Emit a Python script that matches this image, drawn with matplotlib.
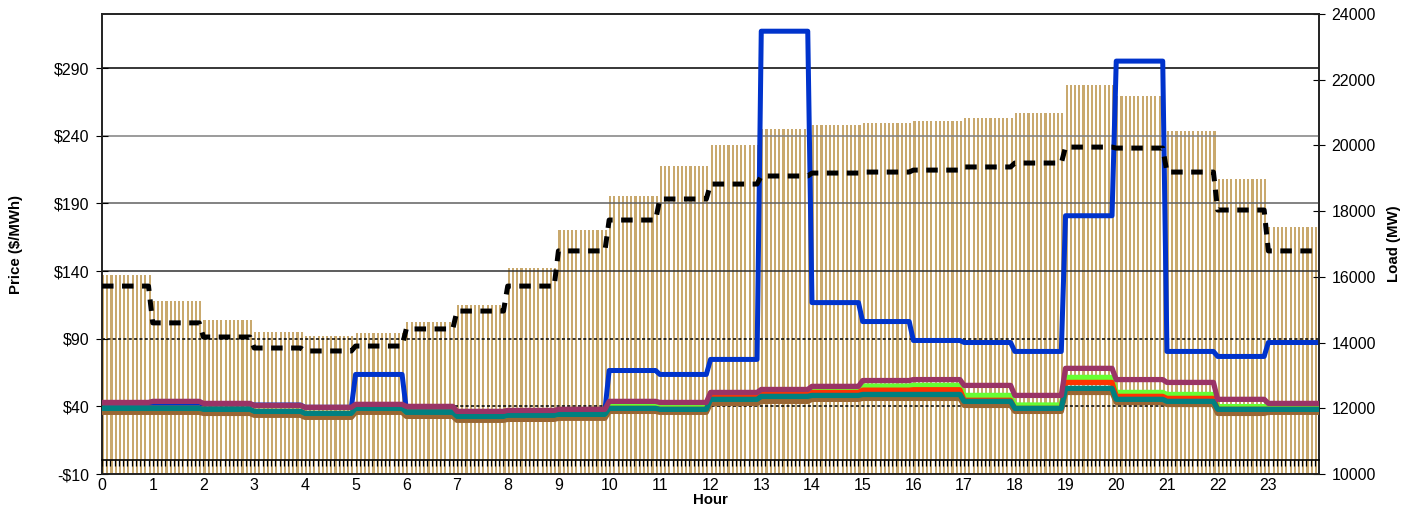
"""
Hourly price vs load chart (5-minute intervals)
"""
import numpy as np
import matplotlib
matplotlib.use('Agg')
import matplotlib.pyplot as plt

plt.rcParams['font.family'] = ['Liberation Sans', 'DejaVu Sans']

# Hourly values, each hour holds 12 five-minute intervals
hours = list(range(24))
hour_labels = [str(h) for h in hours]

load_mw = [16050, 15265, 14690, 14320, 14200, 14290, 14630, 15140, 16270, 17430,
           18460, 19370, 20010, 20500, 20620, 20680, 20740, 20835, 20990, 21840,
           21500, 20440, 18980, 17520]

load_dashed = [15720, 14600, 14170, 13835, 13745, 13895, 14415, 14960, 15720, 16790,
               17730, 18370, 18825, 19070, 19160, 19190, 19250, 19345, 19465, 19950,
               19920, 19190, 18035, 16790]

price_blue = [40.7, 41.0, 41.5, 41.0, 39.3, 63.6, 37.8, 35.6, 36.3, 37.0,
              66.5, 63.6, 74.7, 317.3, 116.7, 102.7, 88.7, 87.2, 80.6, 180.9,
              295.2, 80.6, 76.9, 87.2]

price_purple = [42.9, 43.7, 42.2, 40.7, 39.3, 41.5, 40.0, 36.3, 37.0, 37.8,
                43.7, 42.9, 50.3, 52.5, 54.8, 59.1, 59.8, 55.5, 48.1, 68.1,
                59.8, 57.7, 45.2, 42.2]

price_green = [38.5, 38.5, 37.8, 36.3, 34.8, 38.5, 35.6, 32.6, 33.4, 34.1,
               40.5, 39.8, 48.1, 49.6, 51.8, 55.0, 55.5, 48.1, 41.0, 61.4,
               50.3, 48.8, 39.8, 39.3]

price_red = [38.5, 38.5, 37.8, 36.3, 34.8, 38.5, 35.6, 32.6, 33.4, 34.1,
             38.5, 37.8, 46.6, 48.8, 50.3, 52.0, 52.3, 44.5, 38.5, 57.7,
             47.4, 45.9, 37.8, 37.8]

price_teal = [38.5, 38.5, 37.8, 36.3, 34.8, 38.5, 35.6, 32.6, 33.4, 34.1,
              38.5, 37.8, 45.2, 47.4, 48.1, 48.8, 48.8, 43.7, 38.5, 53.3,
              45.2, 43.7, 37.8, 37.8]

price_brown = [35.6, 35.6, 34.8, 33.4, 31.9, 35.6, 32.6, 29.7, 30.4, 31.2,
               36.3, 35.6, 42.2, 43.7, 45.2, 45.9, 45.9, 40.7, 36.3, 50.3,
               42.9, 41.4, 34.8, 35.6]

price_ticks = [-10, 40, 90, 140, 190, 240, 290]
load_ticks = [10000, 12000, 14000, 16000, 18000, 20000, 22000, 24000]

PER_HOUR = 12


def to_intervals(values):
    """Spread hourly values over 5-minute intervals, closing the line at hour 24"""
    v = np.repeat(values, PER_HOUR)
    return np.append(v, v[-1])


n = 24 * PER_HOUR
x_bar = np.arange(n) / PER_HOUR
x_line = np.arange(n + 1) / PER_HOUR

fig = plt.figure(figsize=(14.17, 5.08), dpi=100)
ax = fig.add_axes([0.072, 0.0669, 0.8589, 0.9055])
ax2 = ax.twinx()
ax.set_zorder(ax2.get_zorder() + 1)
ax.patch.set_visible(False)

# Load bars on the right axis
ax2.bar(x_bar, np.repeat(load_mw, PER_HOUR) - 10000, bottom=10000, width=1 / 24,
        align='edge', color='#C9A96E', linewidth=0)
ax2.set_ylim(10000, 24000)
ax2.set_yticks(load_ticks)
ax2.tick_params(axis='y', direction='inout', length=8, labelsize=11.5, pad=5)
ax2.set_ylabel('Load (MW)', fontsize=10.8, fontweight='bold', labelpad=8)

# Gridlines on the price axis
grid_styles = {290: ('#000000', '-'), 240: ('#808080', '-'), 190: ('#606060', '-'),
               140: ('#303030', '-'), 90: ('#000000', (0, (2, 1.5))),
               40: ('#000000', (0, (2, 1.5)))}
for val, (col, ls) in grid_styles.items():
    ax.axhline(val, color=col, linestyle=ls, linewidth=1.1, zorder=1)

# Price lines (blue sits under the cluster of low lines)
ax.plot(x_line, to_intervals(price_blue), color='#0033CC', lw=3.6, zorder=2,
        solid_joinstyle='round')
for vals, col in [(price_brown, '#996633'), (price_green, '#66FF33'),
                  (price_red, '#FF3300'), (price_teal, '#008080'),
                  (price_purple, '#993366')]:
    ax.plot(x_line, to_intervals(vals), color=col, lw=3.8, zorder=3)

# Dashed load line drawn in load units, on top of the price lines
ax.plot(x_line, to_intervals(load_dashed), color='black', lw=3.6,
        linestyle=(0, (2.3, 1.7)), transform=ax2.transData, zorder=4)

ax.set_xlim(0, 24)
ax.set_ylim(-10, 330)
ax.set_yticks(price_ticks)
ax.set_yticklabels([f'-${-v}' if v < 0 else f'${v}' for v in price_ticks])
ax.tick_params(axis='y', direction='inout', length=8, labelsize=11.5, pad=5)
ax.set_xticks(hours)
ax.set_xticklabels(hour_labels)
ax.tick_params(axis='x', length=0, labelsize=11.5, pad=3)
ax.set_ylabel('Price ($/MWh)', fontsize=10.8, fontweight='bold', labelpad=22)
ax.set_xlabel('Hour', fontsize=10.8, fontweight='bold', labelpad=0)
ax2.set_xlim(0, 24)

# Category axis crossing at price 0, with a tick per interval
ax3 = ax.twiny()
ax3.set_xlim(0, 24)
for side in ['top', 'left', 'right']:
    ax3.spines[side].set_visible(False)
ax3.spines['bottom'].set_position(('data', 0))
ax3.spines['bottom'].set_linewidth(1.2)
ax3.xaxis.set_ticks_position('bottom')
ax3.set_xticks(x_bar)
ax3.set_xticklabels([])
ax3.tick_params(axis='x', direction='out', length=4, width=0.9)

for a in (ax, ax2):
    for s in a.spines.values():
        s.set_color('#222222')
        s.set_linewidth(1.2)

plt.savefig('out.png', dpi=100)
